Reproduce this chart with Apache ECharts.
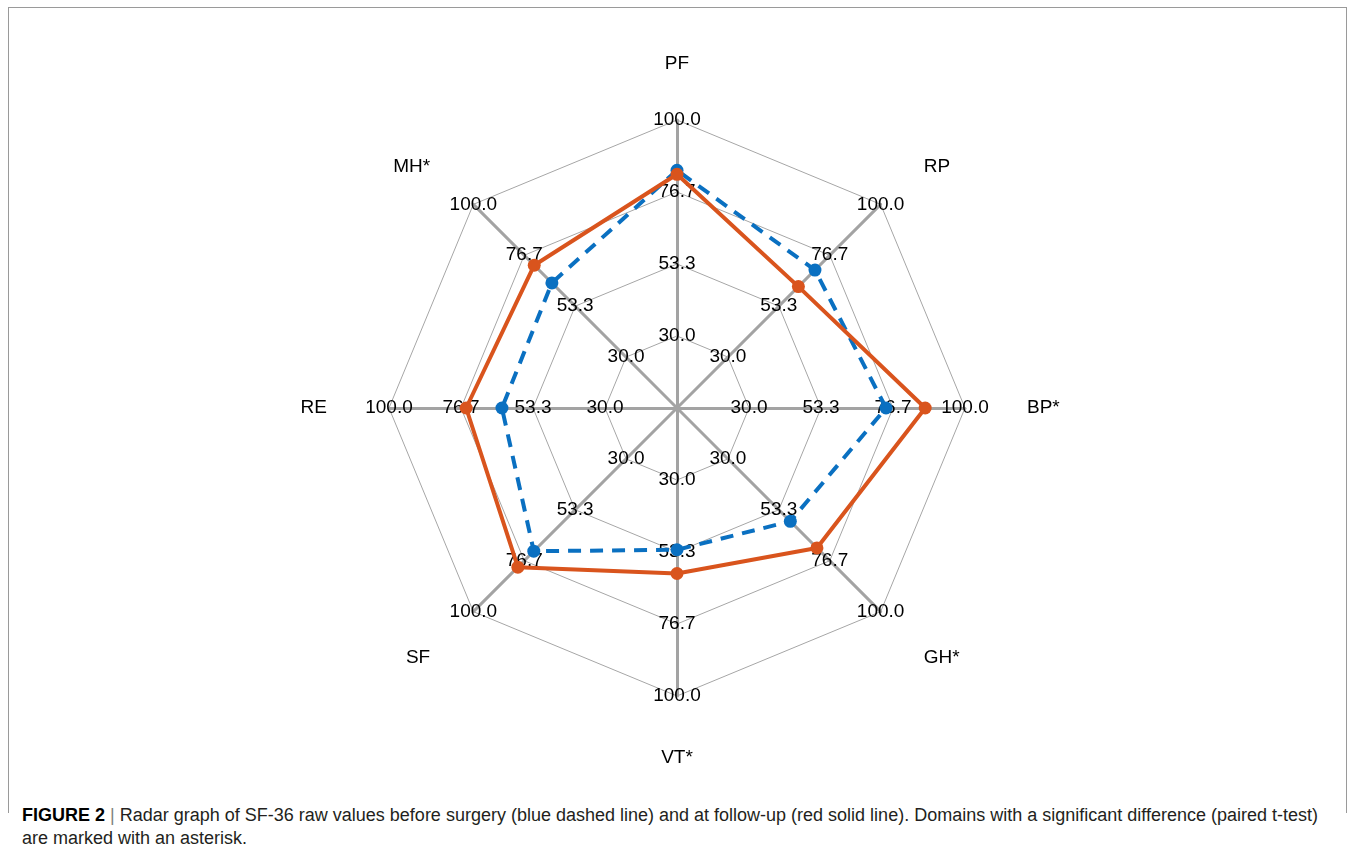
<!DOCTYPE html>
<html>
<head>
<meta charset="utf-8">
<title>SF-36 radar</title>
<script src="https://cdn.jsdelivr.net/npm/echarts@6/dist/echarts.min.js"></script>
<style>
  html, body { margin: 0; padding: 0; background: #fff; }
  body { width: 1356px; height: 851px; position: relative; overflow: hidden; }
  #frame {
    position: absolute; left: 8px; top: 7px; width: 1339px; height: 806px;
    border: 1px solid #9a9a9a; border-bottom: none; box-sizing: border-box;
  }
  #chart { position: absolute; left: 0; top: 0; width: 1356px; height: 790px; }
  #caption {
    position: absolute; left: 22px; top: 804px;
    font-family: "Liberation Sans Narrow", "Arial Narrow", "Liberation Sans", Arial, sans-serif;
    font-size: 18px; line-height: 23px; color: #231f20; white-space: nowrap;
    transform-origin: 0 0;
  }
  #caption b { font-weight: bold; color: #000; }
  #caption .sep { color: #7f7f7f; padding: 0 5px; }
</style>
</head>
<body>
<div id="frame"></div>
<div id="chart"></div>
<div id="caption"><span id="capLine1"><b>FIGURE 2</b><span class="sep">|</span>Radar graph of SF-36 raw values before surgery (blue dashed line) and at follow-up (red solid line). Domains with a significant difference (paired t-test)</span><br>are marked with an asterisk.</div>
<script>
// SF-36 domains, listed clockwise starting from the top
const domains = ['PF', 'RP', 'BP*', 'GH*', 'VT*', 'SF', 'RE', 'MH*'];

// Mean raw scores per domain
const beforeSurgery = [83.7, 69.9, 74.4, 58.6, 52.6, 72.3, 63.4, 64.0];
const followUp      = [82.4, 62.3, 87.1, 70.8, 60.3, 79.6, 75.0, 72.1];

// Radial scale: four rings, labelled 30.0 / 53.3 / 76.7 / 100.0
const axisMax = 100;
const ringStep = 70 / 3;
const ringCount = 4;
const axisMin = axisMax - ringCount * ringStep;

// Distance between the outer ring and each domain name, plus a small
// downward shift (px) applied to the diagonal names
const nameGaps = [45, 61, 62, 61, 51, 61, 62, 61];
const nameShift = [0, 6, 0, 3, 0, 3, 0, 6];

// ECharts lays radar indicators out counter-clockwise, so keep the first
// domain at the top and reverse the rest to obtain a clockwise order.
function clockwise(arr) {
  return [arr[0]].concat(arr.slice(1).reverse());
}

// Squeeze the caption's first line into the text column width
(function fitCaption() {
  const cap = document.getElementById('caption');
  const w = document.getElementById('capLine1').getBoundingClientRect().width;
  const target = 1296;
  if (w > 0) cap.style.transform = 'scaleX(' + (target / w) + ')';
})();

const chart = echarts.init(document.getElementById('chart'), null, { renderer: 'canvas' });

const FONT = '"Liberation Sans", Arial, Helvetica, sans-serif';

const indicators = clockwise(domains.map((name, i) => ({
  name: name,
  min: axisMin,
  max: axisMax,
  nameGap: nameGaps[i]
})));

// A spacer line above a name pushes it down by half the spacer's height
const spacerStyles = {};
nameShift.forEach(s => {
  if (s > 0) spacerStyles['sp' + s] = { fontSize: 1, lineHeight: 2 * s };
});

chart.setOption({
  animation: false,
  backgroundColor: 'transparent',
  radar: {
    center: [677, 408],
    radius: 288,
    startAngle: 90,
    shape: 'polygon',
    splitNumber: ringCount,
    indicator: indicators,
    axisNameGap: 55,
    axisName: {
      color: '#000',
      fontSize: 19,
      fontFamily: FONT,
      formatter: function (name) {
        const s = nameShift[domains.indexOf(name)] || 0;
        return s > 0 ? '{sp' + s + '| }\n{n|' + name + '}' : '{n|' + name + '}';
      },
      rich: Object.assign({
        n: { color: '#000', fontSize: 19, fontFamily: FONT, lineHeight: 22 }
      }, spacerStyles)
    },
    axisLine: { show: true, lineStyle: { color: '#a3a3a3', width: 3 } },
    axisTick: { show: false },
    splitLine: { show: true, lineStyle: { color: '#a6a6a6', width: 1 } },
    splitArea: { show: false },
    axisLabel: {
      show: true,
      margin: 0,
      align: 'center',
      verticalAlign: 'middle',
      color: '#000',
      fontSize: 19,
      fontFamily: FONT,
      showMinLabel: false,
      formatter: v => (v < axisMin + 1 ? '' : v.toFixed(1))
    }
  },
  series: [{
    type: 'radar',
    symbol: 'circle',
    symbolSize: 13,
    data: [
      {
        name: 'Before surgery',
        value: clockwise(beforeSurgery),
        lineStyle: { color: '#0a70c1', width: 4, type: [13, 9] },
        itemStyle: { color: '#0a70c1' }
      },
      {
        name: 'Follow-up',
        value: clockwise(followUp),
        lineStyle: { color: '#d9541d', width: 4, type: 'solid' },
        itemStyle: { color: '#d9541d' }
      }
    ]
  }]
});
</script>
</body>
</html>
